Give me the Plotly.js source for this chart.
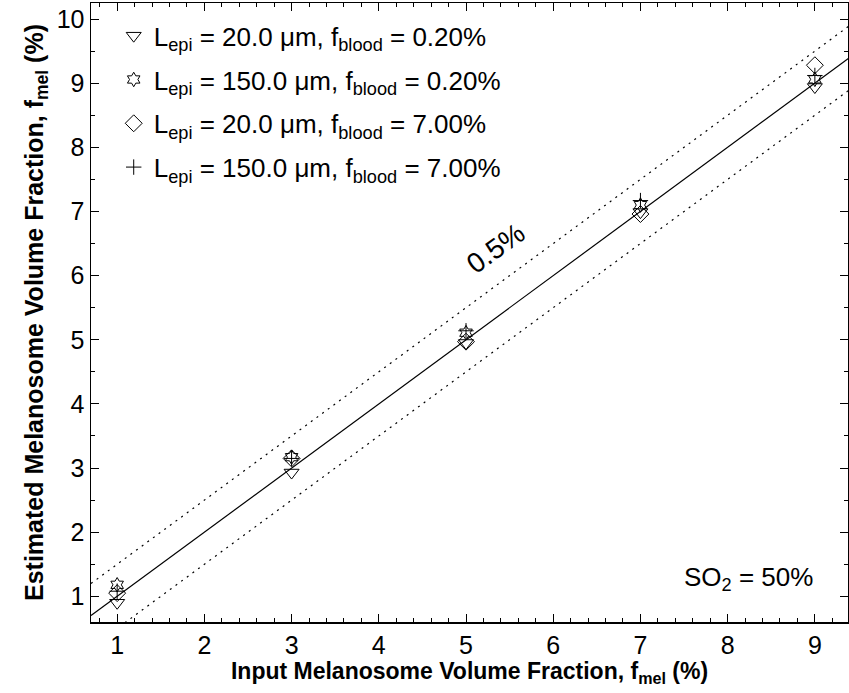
<!DOCTYPE html>
<html>
<head>
<meta charset="utf-8">
<script src="https://cdn.plot.ly/plotly-3.0.1.min.js"></script>
<style>html,body{margin:0;padding:0;background:#fff;}#chart{width:849px;height:693px;}</style>
</head>
<body>
<div id="chart"></div>
<script>
// Data
const inputFmel = [1, 3, 5, 7, 9];
const est_L20_fb020 = [0.90, 2.93, 4.95, 6.99, 8.94];
const est_L150_fb020 = [1.18, 3.17, 5.11, 7.10, 9.06];
const est_L20_fb700 = [1.05, 3.15, 4.97, 6.96, 9.28];
const est_L150_fb700 = [1.08, 3.15, 5.14, 7.17, 9.12];
const seriesNames = [
  'L<sub>epi</sub> = 20.0 μm, f<sub>blood</sub> = 0.20%',
  'L<sub>epi</sub> = 150.0 μm, f<sub>blood</sub> = 0.20%',
  'L<sub>epi</sub> = 20.0 μm, f<sub>blood</sub> = 7.00%',
  'L<sub>epi</sub> = 150.0 μm, f<sub>blood</sub> = 7.00%'
];
const lineX = [0.7, 9.4];
const tolerance = 0.5;

const FONT = 'Arial, "Liberation Sans", sans-serif';
const symbols = ['triangle-down-open', 'hexagram-open', 'diamond-open', 'cross-thin-open'];
const sizes = [13, 11, 13, 11];
const ys = [est_L20_fb020, est_L150_fb020, est_L20_fb700, est_L150_fb700];

const traces = [];
traces.push({x: lineX, y: lineX, mode: 'lines', line: {color: '#000', width: 1.2}, showlegend: false, hoverinfo: 'skip'});
traces.push({x: lineX, y: lineX.map(v => v + tolerance), mode: 'lines', line: {color: '#000', width: 1.2, dash: '2px,5px'}, showlegend: false, hoverinfo: 'skip'});
traces.push({x: lineX, y: lineX.map(v => v - tolerance), mode: 'lines', line: {color: '#000', width: 1.2, dash: '2px,5px'}, showlegend: false, hoverinfo: 'skip'});
for (let i = 0; i < 4; i++) {
  traces.push({
    x: inputFmel, y: ys[i], mode: 'markers', name: seriesNames[i], legendgroup: 'g' + i,
    marker: {symbol: symbols[i], size: sizes[i], color: '#000', line: {color: '#000', width: 1}}
  });
}

const layout = {
  width: 849, height: 693,
  margin: {l: 91, r: 1, t: 3, b: 71},
  paper_bgcolor: '#fff', plot_bgcolor: '#fff',
  font: {family: FONT, color: '#000', size: 22},
  showlegend: true,
  legend: {x: 0.03, y: 0.985, xanchor: 'left', yanchor: 'top', bgcolor: 'rgba(0,0,0,0)', font: {size: 26, family: FONT}, itemwidth: 30, tracegroupgap: 7},
  xaxis: {
    range: [0.7, 9.38], tickvals: [1,2,3,4,5,6,7,8,9], ticktext: ['1','2','3','4','5','6','7','8','9'],
    ticks: 'inside', ticklen: 8, tickwidth: 1, tickcolor: '#000', mirror: 'allticks',
    showline: true, linecolor: '#000', linewidth: 1.5, showgrid: false, zeroline: false,
    tickfont: {size: 25, family: FONT},
    minor: {dtick: 0.2, tick0: 0, ticks: 'inside', ticklen: 4, tickcolor: '#000', tickwidth: 1, showgrid: false},
    title: {text: '<b>Input Melanosome Volume Fraction, f<sub>mel</sub> (%)</b>', font: {size: 23, family: FONT}, standoff: 2}
  },
  yaxis: {
    range: [0.6, 10.25], tickvals: [1,2,3,4,5,6,7,8,9,10], ticktext: ['1','2','3','4','5','6','7','8','9','10'],
    ticks: 'inside', ticklen: 8, tickwidth: 1, tickcolor: '#000', mirror: 'allticks',
    showline: true, linecolor: '#000', linewidth: 1.5, showgrid: false, zeroline: false,
    tickfont: {size: 25, family: FONT},
    minor: {dtick: 0.5, tick0: 0, ticks: 'inside', ticklen: 4, tickcolor: '#000', tickwidth: 1, showgrid: false},
    title: {text: '<b>Estimated Melanosome Volume Fraction, f<sub>mel</sub> (%)</b>', font: {size: 25, family: FONT}, standoff: 6}
  },
  annotations: [
    {x: 5.34, y: 6.42, xref: 'x', yref: 'y', text: '0.5%', showarrow: false, textangle: -36, font: {size: 28, family: FONT}},
    {x: 9.0, y: 1.28, xref: 'x', yref: 'y', xanchor: 'right', text: 'SO<sub>2</sub> = 50%', showarrow: false, font: {size: 26, family: FONT}}
  ]
};

Plotly.newPlot('chart', traces, layout, {displayModeBar: false, staticPlot: true});
</script>
</body>
</html>
